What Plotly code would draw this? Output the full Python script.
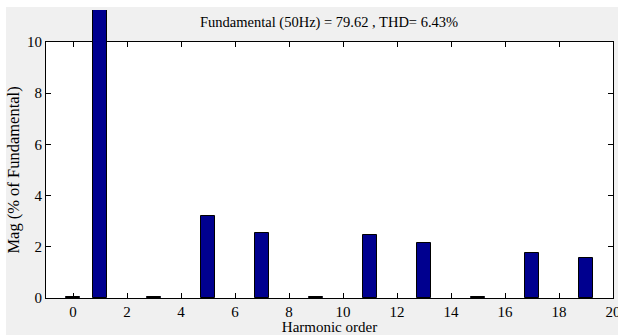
import plotly.graph_objects as go

harmonic_order = list(range(20))
magnitude = [0.05, 100.0, 0.0, 0.04, 0.0, 3.19, 0.0, 2.52, 0.0, 0.04,
             0.0, 2.45, 0.0, 2.16, 0.0, 0.04, 0.0, 1.77, 0.0, 1.55]
x_ticks = list(range(0, 21, 2))
y_ticks = list(range(0, 11, 2))
title_text = "Fundamental (50Hz) = 79.62 , THD= 6.43%"

W, H = 618, 335
L, R, T, B = 46, 5, 10, 37
plot_h = H - T - B
main_top_px = 42
dom_split = (H - B - main_top_px) / plot_h
y_per_px = 10 / (H - B - main_top_px)
y2_max = 10 + (main_top_px - T) * y_per_px

bar_color = "#00008F"
grey = "#F0F0F0"
font = "Liberation Serif"

# no outline for bars of zero height
line_widths = [1 if v > 0 else 0 for v in magnitude]

fig = go.Figure()
bar_kw = dict(x=harmonic_order, y=magnitude, width=0.5,
              marker=dict(color=bar_color, line=dict(color="black", width=line_widths)),
              showlegend=False, hoverinfo="skip")
fig.add_trace(go.Bar(xaxis="x", yaxis="y", **bar_kw))
fig.add_trace(go.Bar(xaxis="x", yaxis="y2", **bar_kw))

pw = W - L - R
fig.add_shape(type="rect", xref="paper", yref="paper",
              x0=(6 - L) / pw, x1=(W - L) / pw + 0.01,
              y0=-(B + 2) / plot_h, y1=(H - B - 7) / plot_h,
              fillcolor=grey, line=dict(width=0), layer="below")
fig.add_shape(type="rect", xref="x domain", yref="y domain",
              x0=0, x1=1, y0=0, y1=1,
              fillcolor="white", line=dict(width=0), layer="below")

fig.update_layout(
    width=W, height=H,
    margin=dict(l=L, r=R, t=T, b=B, pad=0),
    paper_bgcolor="white", plot_bgcolor=grey,
    font=dict(family=font, size=15, color="black"),
    bargap=0,
    xaxis=dict(range=[-1, 20], tickvals=x_ticks, ticks="inside", ticklen=5,
               tickcolor="black", showline=True, linecolor="black", linewidth=1,
               mirror="ticks", showgrid=False, zeroline=False, anchor="y",
               tickfont=dict(size=15), ticklabeloverflow="allow", automargin=False,
               title=dict(text="Harmonic order", font=dict(size=15), standoff=0)),
    yaxis=dict(domain=[0, dom_split], range=[0, 10], tickvals=y_ticks,
               ticks="inside", ticklen=5, tickcolor="black", showline=True,
               linecolor="black", linewidth=1, mirror="ticks", showgrid=False,
               zeroline=False, tickfont=dict(size=15), automargin=False,
               title=dict(text="Mag (% of Fundamental)", font=dict(size=16.5), standoff=3)),
    yaxis2=dict(domain=[dom_split, 1], range=[10, y2_max], visible=False,
                showgrid=False, zeroline=False),
    annotations=[dict(text=title_text, xref="paper", yref="paper",
                      x=(329 - L) / pw, y=(H - B - 23) / plot_h,
                      xanchor="center", yanchor="middle", showarrow=False,
                      font=dict(family=font, size=14.5))],
)

fig.write_html("out.html", config={"displayModeBar": False},
               post_script="document.body.style.margin='0';document.body.style.overflow='hidden';")
